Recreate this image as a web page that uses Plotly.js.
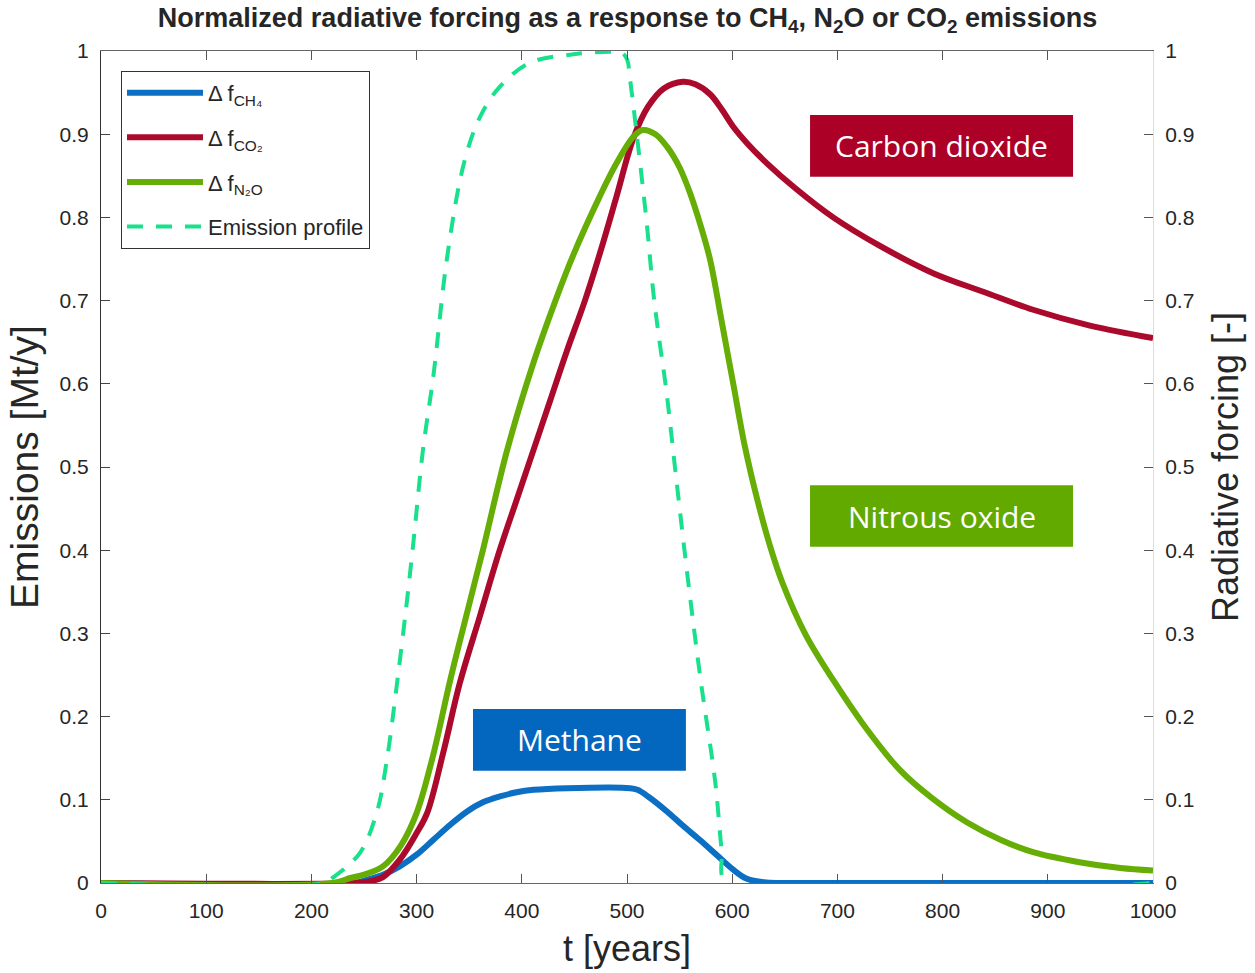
<!DOCTYPE html>
<html>
<head>
<meta charset="utf-8">
<script src="https://cdn.plot.ly/plotly-3.0.1.min.js"></script>
<style>html,body{margin:0;padding:0;background:#fff;}#chart{width:1255px;height:973px;}</style>
</head>
<body>
<div id="chart"></div>
<script>
// ---- data ----
const tCH4 = [0, 240, 253, 268, 284, 300, 316, 332, 348, 363, 379, 395, 411, 443, 503, 510, 520, 538, 553, 569, 585, 601, 614, 630, 700, 1000];
const fCH4 = [0, 0, 0.004, 0.01, 0.02, 0.034, 0.052, 0.07, 0.086, 0.097, 0.104, 0.109, 0.112, 0.114, 0.114, 0.112, 0.104, 0.086, 0.069, 0.052, 0.034, 0.016, 0.005, 0.001, 0, 0];

const tCO2 = [0, 240, 255, 268, 284, 300, 310, 325, 341, 360, 379, 395, 411, 427, 443, 460, 475, 490, 506, 520, 535, 553, 565, 579, 590, 601, 615, 633, 660, 696, 740, 791, 840, 886, 940, 1000];
const fCO2 = [0, 0, 0.002, 0.007, 0.028, 0.06, 0.084, 0.155, 0.24, 0.32, 0.40, 0.46, 0.52, 0.58, 0.64, 0.70, 0.76, 0.825, 0.895, 0.933, 0.955, 0.963, 0.96, 0.948, 0.93, 0.909, 0.888, 0.865, 0.835, 0.80, 0.766, 0.733, 0.71, 0.689, 0.67, 0.655];

const tN2O = [0, 220, 237, 250, 268, 285, 300, 315, 332, 347, 363, 386, 411, 432, 449, 474, 490, 506, 515, 527, 538, 550, 560, 570, 579, 590, 601, 612, 624, 636, 648, 670, 696, 725, 760, 790, 823, 855, 886, 930, 969, 1000];
const fN2O = [0, 0, 0.006, 0.01, 0.02, 0.045, 0.084, 0.15, 0.244, 0.32, 0.40, 0.52, 0.625, 0.70, 0.755, 0.825, 0.865, 0.897, 0.905, 0.90, 0.885, 0.86, 0.829, 0.79, 0.749, 0.675, 0.60, 0.525, 0.46, 0.405, 0.36, 0.298, 0.244, 0.19, 0.135, 0.102, 0.073, 0.052, 0.037, 0.025, 0.018, 0.015];

const tEm = [0, 212, 221, 246, 262, 272, 281, 290, 297, 306, 316, 329, 345, 360, 379, 408, 449, 484, 495, 500, 503, 512, 519, 525, 531, 537, 547, 558, 570, 584, 590, 595, 1000];
const fEm = [0, 0, 0.007, 0.036, 0.084, 0.15, 0.236, 0.33, 0.41, 0.52, 0.61, 0.752, 0.865, 0.92, 0.957, 0.986, 0.996, 0.999, 0.998, 0.99, 0.965, 0.87, 0.79, 0.71, 0.65, 0.596, 0.484, 0.364, 0.244, 0.12, 0.04, 0, 0];

const seriesNames = ['Δ f<sub>CH₄</sub>', 'Δ f<sub>CO₂</sub>', 'Δ f<sub>N₂O</sub>', 'Emission profile'];
const xTicks = [0, 100, 200, 300, 400, 500, 600, 700, 800, 900, 1000];
const yTicks = [0, 0.1, 0.2, 0.3, 0.4, 0.5, 0.6, 0.7, 0.8, 0.9, 1];
const yTickText = ['0', '0.1', '0.2', '0.3', '0.4', '0.5', '0.6', '0.7', '0.8', '0.9', '1'];

const labelText = ['Carbon dioxide', 'Nitrous oxide', 'Methane'];
// ---------------------------------------

const C_BLUE = '#0b6fc4', C_RED = '#ab0a2c', C_GREEN = '#66ad06', C_DASH = '#19e08c';
const txt = '#262626';
const FONT = 'Liberation Sans, Arial, sans-serif';
const lineShape = {shape: 'spline', smoothing: 1.0};

const traces = [
  {x: tCH4, y: fCH4, name: seriesNames[0], mode: 'lines', legendgroup: 'a',
   line: Object.assign({color: C_BLUE, width: 6}, lineShape)},
  {x: tCO2, y: fCO2, name: seriesNames[1], mode: 'lines', legendgroup: 'b',
   line: Object.assign({color: C_RED, width: 6}, lineShape)},
  {x: tN2O, y: fN2O, name: seriesNames[2], mode: 'lines', legendgroup: 'c',
   line: Object.assign({color: C_GREEN, width: 6}, lineShape)},
  {x: tEm, y: fEm, name: seriesNames[3], mode: 'lines', legendgroup: 'd',
   line: Object.assign({color: C_DASH, width: 4, dash: '16px,13px'}, lineShape)},
  {x: [0, 1000], y: [0, 0], yaxis: 'y2', mode: 'lines', showlegend: false, hoverinfo: 'skip',
   line: {color: 'rgba(0,0,0,0)', width: 0}}
];

const tickFont = {family: FONT, size: 21, color: txt};

const boxes = [
  {x0: 674, x1: 924, y0: 0.849, y1: 0.923, color: '#ad0026'},
  {x0: 674, x1: 924, y0: 0.404, y1: 0.478, color: '#62a900'},
  {x0: 353.6, x1: 556, y0: 0.135, y1: 0.209, color: '#0366bf'}
];

const layout = {
  width: 1255, height: 973,
  margin: {l: 101, r: 102, t: 51, b: 90},
  paper_bgcolor: '#fff', plot_bgcolor: '#fff',
  showlegend: true,
  title: {
    text: '<b>Normalized radiative forcing as a response to CH<sub>4</sub>, N<sub>2</sub>O or CO<sub>2</sub> emissions</b>',
    font: {family: FONT, size: 27, color: txt},
    x: 0.5, xanchor: 'center', xref: 'container',
    y: 1 - 18 / 973, yanchor: 'middle', yref: 'container'
  },
  xaxis: {
    range: [0, 1000], tickvals: xTicks, ticktext: xTicks.map(String),
    ticks: 'inside', ticklen: 9, tickcolor: '#555', tickwidth: 1,
    showline: true, linecolor: '#666', linewidth: 1, mirror: 'ticks',
    showgrid: false, zeroline: false, tickfont: tickFont, ticklabelstandoff: 9,
    title: {text: 't [years]', font: {family: FONT, size: 36, color: txt}, standoff: 14},
    automargin: false
  },
  yaxis: {
    range: [0, 1], tickvals: yTicks, ticktext: yTickText,
    ticks: 'inside', ticklen: 9, tickcolor: '#444', tickwidth: 1,
    showline: true, linecolor: '#333', linewidth: 1,
    showgrid: false, zeroline: false, tickfont: tickFont, ticklabelstandoff: 7,
    title: {text: 'Emissions [Mt/y]', font: {family: FONT, size: 39, color: txt}, standoff: 8},
    automargin: false
  },
  yaxis2: {
    range: [0, 1], overlaying: 'y', side: 'right', tickvals: yTicks, ticktext: yTickText,
    ticks: 'inside', ticklen: 9, tickcolor: '#555', tickwidth: 1,
    showline: true, linecolor: '#ddd', linewidth: 1,
    showgrid: false, zeroline: false, tickfont: tickFont, ticklabelstandoff: 7,
    title: {text: 'Radiative forcing [-]', font: {family: FONT, size: 36, color: txt}, standoff: 19},
    automargin: false
  },
  legend: {
    x: 0.019, y: 0.976, xanchor: 'left', yanchor: 'top',
    bgcolor: '#fff', bordercolor: '#333', borderwidth: 1,
    font: {family: FONT, size: 22, color: txt},
    itemwidth: 76, tracegroupgap: 13, traceorder: 'grouped'
  },
  shapes: boxes.map(b => ({type: 'rect', xref: 'x', yref: 'y', x0: b.x0, x1: b.x1, y0: b.y0, y1: b.y1,
    fillcolor: b.color, line: {width: 0}, layer: 'above'})),
  annotations: boxes.map((b, i) => ({
    x: (b.x0 + b.x1) / 2, y: (b.y0 + b.y1) / 2, xref: 'x', yref: 'y',
    text: labelText[i], showarrow: false, xanchor: 'center', yanchor: 'middle',
    font: {family: 'Open Sans, Noto Sans, sans-serif', size: 30, color: '#ffffff'}
  }))
};

Plotly.newPlot('chart', traces, layout, {displayModeBar: false, staticPlot: true});
</script>
</body>
</html>
